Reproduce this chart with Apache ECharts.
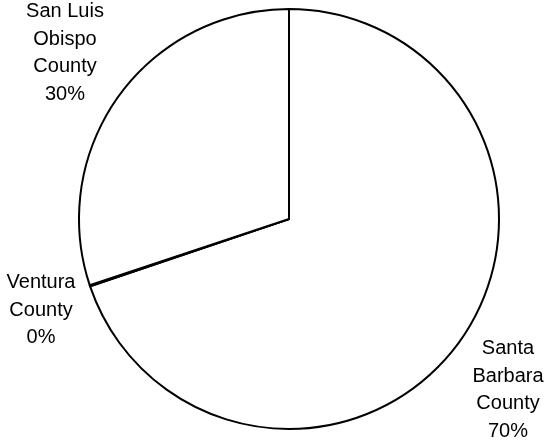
<!DOCTYPE html>
<html>
<head>
<meta charset="utf-8">
<script src="https://cdn.jsdelivr.net/npm/echarts@6/dist/echarts.min.js"></script>
<style>
html,body{margin:0;padding:0;background:#fff;}
#chart{width:547px;height:442px;}
</style>
</head>
<body>
<div id="chart"></div>
<script>
const categories = ['Santa Barbara County', 'Ventura County', 'San Luis Obispo County'];
const labelNames = ['Santa\nBarbara\nCounty', 'Ventura\nCounty', 'San Luis\nObispo\nCounty'];
const values = [69.8, 0.1, 30.1];
const percentLabels = ['70%', '0%', '30%'];

// label centre positions (px) for each slice, in the order above
const labelCenters = [[508, 390], [41, 310], [65, 53]];

const chart = echarts.init(document.getElementById('chart'), null, {renderer: 'canvas'});
chart.setOption({
  animation: false,
  backgroundColor: '#ffffff',
  series: [{
    type: 'pie',
    center: [289, 219],
    radius: [0, 210],
    startAngle: 90,
    clockwise: true,
    avoidLabelOverlap: false,
    data: categories.map((c, i) => ({name: c, value: values[i]})),
    itemStyle: {color: '#ffffff', borderColor: '#000000', borderWidth: 2},
    emphasis: {disabled: true},
    label: {
      show: true,
      position: 'outside',
      overflow: 'none',
      formatter: p => labelNames[p.dataIndex] + '\n' + percentLabels[p.dataIndex],
      fontFamily: 'Liberation Sans, Arial, sans-serif',
      fontSize: 20,
      lineHeight: 27.5,
      color: '#000000',
      align: 'center'
    },
    labelLine: {show: false},
    labelLayout: function (p) {
      const c = labelCenters[p.dataIndex];
      return {x: c[0], y: c[1], align: 'center', verticalAlign: 'middle', hideOverlap: false};
    }
  }]
});
</script>
</body>
</html>
